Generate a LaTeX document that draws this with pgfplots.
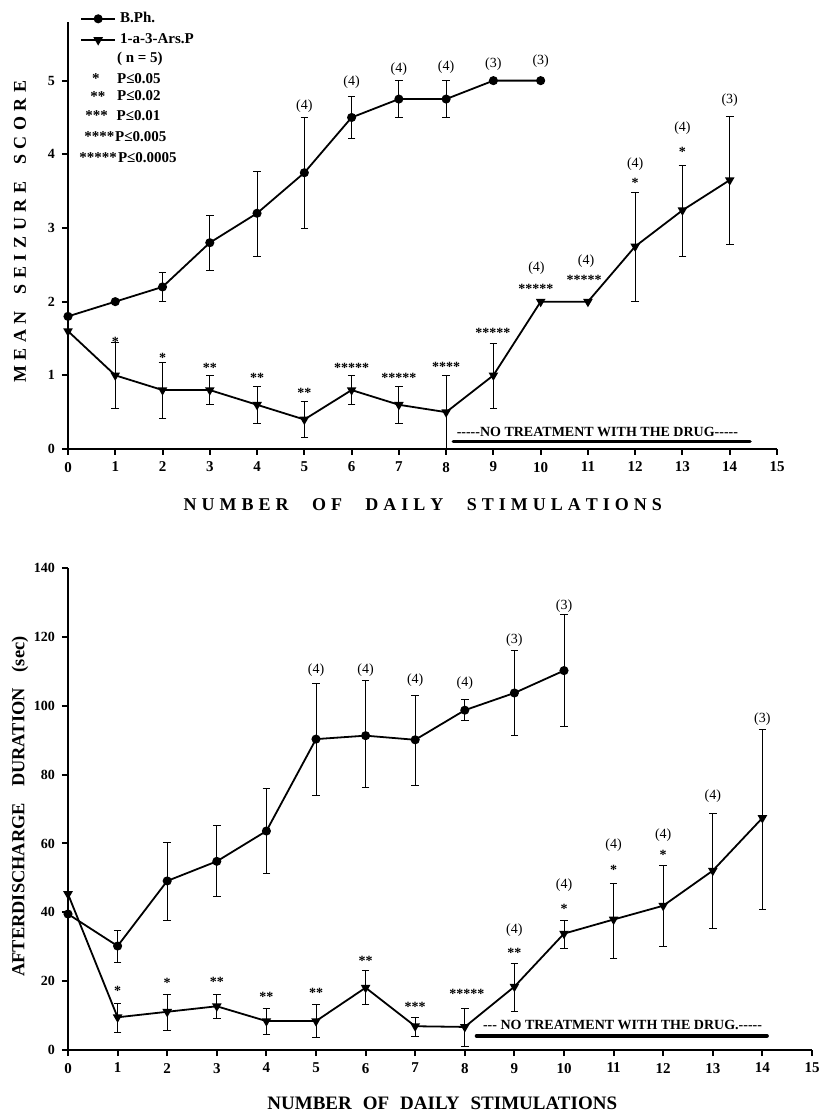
\documentclass[border=0pt]{standalone}
\usepackage{fontspec}
\setmainfont{Liberation Serif}[Ligatures=TeXOff]
\usepackage{pgfplots}
\pgfplotsset{compat=1.18}
\def\spaceout#1{\spaceoutA#1\relax}
\def\spaceoutA#1{\ifx#1\relax\else#1\kern\lsk\expandafter\spaceoutA\fi}
\newdimen\lsk
\pgfplotsset{
  myax/.style={
    scale only axis, clip=false,
    axis lines=left,
    axis line style={-, line width=1.3pt},
    tick align=outside, major tick length=3pt,
    tick style={line width=1pt, black},
    tick label style={font=\bfseries\fontsize{7}{8}\selectfont},
    xticklabel style={font=\bfseries\fontsize{7.5}{8}\selectfont},
    /pgf/number format/assume math mode=true,
    xmin=0, xmax=15, xtick={0,1,...,15},
  },
  ebs/.style={error bars/.cd, y dir=both, y explicit,
    error bar style={line width=0.45pt, solid},
    error mark=-,
    error mark options={line width=0.45pt, mark size=1.9pt, black, rotate=90}},
  bph/.style={black, line width=0.9pt, mark=*, mark size=1.8pt, ebs},
  ars/.style={black, line width=0.9pt, mark=triangle*, mark size=1.9pt, mark options={rotate=180}, ebs},
}
\newcommand\ann{\fontsize{7}{8}\selectfont}
\newcommand\st{\bfseries\fontsize{7}{8}\selectfont}
\newcommand\legf{\bfseries\fontsize{7.5}{8}\selectfont}
\tikzset{starn/.style={anchor=base, yshift=-3.4pt, font=\st, inner sep=0pt},
         parn/.style={font=\ann, inner sep=0pt}}
\begin{document}
\begin{tikzpicture}
\path[use as bounding box] (0,0) rectangle (410.5pt,556.5pt);
% ---------------- TOP ----------------
\begin{axis}[myax, at={(34pt,332pt)}, anchor=south west,
  width=354.5pt, height=213.65pt,
  ymin=0, ymax=5.8, ytick={0,1,...,5},
  xlabel={\bfseries\fontsize{9}{10}\selectfont\lsk=2.5pt \spaceout{NUMBER}\hspace{9.2pt}\spaceout{OF}\hspace{9.2pt}\spaceout{DAILY}\hspace{9.2pt}\spaceout{STIMULATIONS}},
  xlabel style={at={(axis description cs:0.504,-0.131)}, anchor=center},
  ylabel={\bfseries\fontsize{9}{10}\selectfont\lsk=2.8pt \spaceout{MEAN}\hspace{5.6pt}\spaceout{SEIZURE}\hspace{5.6pt}\spaceout{SCORE}},
  ylabel style={at={(axis description cs:-0.0677,0.515)}, anchor=center},
  legend style={at={(axis cs:0.25,5.99)}, anchor=north west, draw=none, fill=none,
    font=\legf, row sep=0pt, inner sep=0pt},
  legend cell align=left,
]
\addplot[bph] coordinates {(0,1.8) (1,2.0)
 (2,2.2) += (0,0.2) -= (0,0.2)
 (3,2.8) += (0,0.37) -= (0,0.38)
 (4,3.2) += (0,0.57) -= (0,0.58)
 (5,3.75) += (0,0.75) -= (0,0.75)
 (6,4.5) += (0,0.28) -= (0,0.28)
 (7,4.75) += (0,0.25) -= (0,0.25)
 (8,4.75) += (0,0.25) -= (0,0.25)
 (9,5.0) (10,5.0)};
\addlegendentry{B.Ph.}
\addplot[ars] coordinates {(0,1.6)
 (1,1.0) += (0,0.45) -= (0,0.45)
 (2,0.8) += (0,0.37) -= (0,0.38)
 (3,0.8) += (0,0.2) -= (0,0.2)
 (4,0.6) += (0,0.25) -= (0,0.25)
 (5,0.4) += (0,0.25) -= (0,0.25)
 (6,0.8) += (0,0.2) -= (0,0.2)
 (7,0.6) += (0,0.25) -= (0,0.25)
 (8,0.5) += (0,0.5) -= (0,0.5)
 (9,1.0) += (0,0.43) -= (0,0.45)
 (10,2.0) (11,2.0)
 (12,2.75) += (0,0.73) -= (0,0.75)
 (13,3.24) += (0,0.61) -= (0,0.62)
 (14,3.65) += (0,0.87) -= (0,0.88)};
\addlegendentry{1-a-3-Ars.P}
\addplot[black, line width=1.7pt, line cap=round, forget plot] coordinates {(8.15,0.1) (14.43,0.1)};
\node[font=\bfseries\fontsize{7}{8}\selectfont, inner sep=0pt] at (axis cs:11.2,0.23) {-----NO TREATMENT WITH THE DRUG-----};
% legend extra text
\node[anchor=west, font=\legf, inner sep=0pt] at (axis cs:1.03,5.30) {( n = 5)};
\node[anchor=east, font=\legf, inner sep=0pt] at (axis cs:0.68,5.03) {*};
\node[anchor=west, font=\legf, inner sep=0pt] at (axis cs:1.03,5.03) {P≤0.05};
\node[anchor=east, font=\legf, inner sep=0pt] at (axis cs:0.80,4.79) {**};
\node[anchor=west, font=\legf, inner sep=0pt] at (axis cs:1.03,4.79) {P≤0.02};
\node[anchor=east, font=\legf, inner sep=0pt] at (axis cs:0.85,4.52) {***};
\node[anchor=west, font=\legf, inner sep=0pt] at (axis cs:1.02,4.52) {P≤0.01};
\node[anchor=east, font=\legf, inner sep=0pt] at (axis cs:0.99,4.24) {****};
\node[anchor=west, font=\legf, inner sep=0pt] at (axis cs:0.99,4.24) {P≤0.005};
\node[anchor=east, font=\legf, inner sep=0pt] at (axis cs:1.04,3.96) {*****};
\node[anchor=west, font=\legf, inner sep=0pt] at (axis cs:1.05,3.96) {P≤0.0005};
% annotations B.Ph.
\node[parn] at (axis cs:5,4.65) {(4)};
\node[parn] at (axis cs:6,4.98) {(4)};
\node[parn] at (axis cs:7,5.16) {(4)};
\node[parn] at (axis cs:8,5.19) {(4)};
\node[parn] at (axis cs:9,5.22) {(3)};
\node[parn] at (axis cs:10,5.26) {(3)};
% annotations Ars
\node[starn] at (axis cs:1,1.48) {*};
\node[starn] at (axis cs:2,1.27) {*};
\node[starn] at (axis cs:3,1.13) {**};
\node[starn] at (axis cs:4,0.99) {**};
\node[starn] at (axis cs:5,0.79) {**};
\node[starn] at (axis cs:6,1.13) {*****};
\node[starn] at (axis cs:7,0.99) {*****};
\node[starn] at (axis cs:8,1.15) {****};
\node[starn] at (axis cs:8.99,1.61) {*****};
\node[starn] at (axis cs:9.9,2.2) {*****};
\node[parn] at (axis cs:9.91,2.46) {(4)};
\node[starn] at (axis cs:10.92,2.33) {*****};
\node[parn] at (axis cs:10.96,2.55) {(4)};
\node[starn] at (axis cs:12,3.64) {*};
\node[parn] at (axis cs:12,3.86) {(4)};
\node[starn] at (axis cs:13,4.06) {*};
\node[parn] at (axis cs:13,4.35) {(4)};
\node[parn] at (axis cs:14,4.74) {(3)};
\end{axis}
% ---------------- BOTTOM ----------------
\begin{axis}[myax, at={(34pt,31.5pt)}, anchor=south west,
  width=372pt, height=241pt,
  ymin=0, ymax=140, ytick={0,20,...,140},
  xlabel={\bfseries\fontsize{9.5}{10}\selectfont NUMBER\hspace{5.5pt}OF\hspace{5.5pt}DAILY\hspace{5.5pt}STIMULATIONS},
  xlabel style={at={(axis description cs:0.503,-0.11)}, anchor=center},
  ylabel={\bfseries\fontsize{9.2}{10}\selectfont AFTERDISCHARGE\hspace{8pt}DURATION\hspace{8pt}(sec)},
  ylabel style={at={(axis description cs:-0.0645,0.505)}, anchor=center},
]
\addplot[bph] coordinates {(0,39.5)
 (1,30.2) += (0,4.5) -= (0,4.7)
 (2,49.1) += (0,11.3) -= (0,11.5)
 (3,54.8) += (0,10.5) -= (0,10.2)
 (4,63.6) += (0,12.3) -= (0,12.4)
 (5,90.3) += (0,16.3) -= (0,16.5)
 (6,91.3) += (0,16) -= (0,15)
 (7,90.1) += (0,12.9) -= (0,13.2)
 (8,98.7) += (0,3) -= (0,3.1)
 (9,103.7) += (0,12.3) -= (0,12.4)
 (10,110.2) += (0,16.4) -= (0,16.3)};
\addplot[ars] coordinates {(0,45.3)
 (1,9.5) += (0,4) -= (0,4.4)
 (2,11.1) += (0,4.9) -= (0,5.3)
 (3,12.7) += (0,3.3) -= (0,3.4)
 (4,8.4) += (0,3.7) -= (0,3.8)
 (5,8.4) += (0,4.9) -= (0,4.8)
 (6,18.1) += (0,4.9) -= (0,4.9)
 (7,6.9) += (0,2.5) -= (0,2.9)
 (8,6.7) += (0,5.4) -= (0,5.7)
 (9,18.4) += (0,6.8) -= (0,7.1)
 (10,33.8) += (0,3.8) -= (0,4.3)
 (11,37.9) += (0,10.6) -= (0,11.2)
 (12,41.9) += (0,11.8) -= (0,11.8)
 (13,52.1) += (0,16.5) -= (0,16.9)
 (14,67.4) += (0,25.6) -= (0,26.5)};
\addplot[black, line width=2pt, line cap=round, forget plot] coordinates {(8.24,4.1) (14.09,4.1)};
\node[font=\bfseries\fontsize{7}{8}\selectfont, inner sep=0pt] at (axis cs:11.18,7.3) {--- NO TREATMENT WITH THE DRUG.-----};
\node[parn] at (axis cs:5,110.2) {(4)};
\node[parn] at (axis cs:6,110.2) {(4)};
\node[parn] at (axis cs:7,107.5) {(4)};
\node[parn] at (axis cs:8,106.5) {(4)};
\node[parn] at (axis cs:9,119) {(3)};
\node[parn] at (axis cs:10,129) {(3)};
\node[starn] at (axis cs:1,17.9) {*};
\node[starn] at (axis cs:2,20) {*};
\node[starn] at (axis cs:3,20.3) {**};
\node[starn] at (axis cs:4,16) {**};
\node[starn] at (axis cs:5,17.3) {**};
\node[starn] at (axis cs:6,26.5) {**};
\node[starn] at (axis cs:7,13.1) {***};
\node[starn] at (axis cs:8.04,16.9) {*****};
\node[starn] at (axis cs:9,28.7) {**};
\node[parn] at (axis cs:9,34.9) {(4)};
\node[starn] at (axis cs:10,41.7) {*};
\node[parn] at (axis cs:10,47.8) {(4)};
\node[starn] at (axis cs:11,53) {*};
\node[parn] at (axis cs:11,59.6) {(4)};
\node[starn] at (axis cs:12,57.3) {*};
\node[parn] at (axis cs:12,62.3) {(4)};
\node[parn] at (axis cs:13,73.6) {(4)};
\node[parn] at (axis cs:14,96.2) {(3)};
\end{axis}
\end{tikzpicture}
\end{document}
